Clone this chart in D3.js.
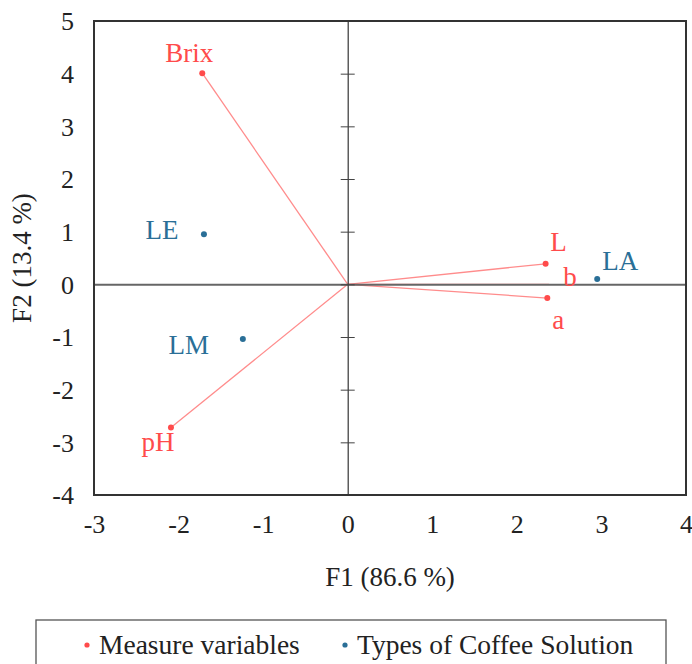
<!DOCTYPE html>
<html><head><meta charset="utf-8">
<script src="https://cdn.jsdelivr.net/npm/d3@7"></script>
<style>body{margin:0;background:#fff}svg{display:block}svg text{font-family:"Liberation Serif","Times New Roman",serif !important}</style>
</head><body>
<script>
// Measure variables (loadings, scaled)
const varNames = ["Brix", "pH", "L", "a", "b"];
const varF1 = [-1.72, -2.09, 2.34, 2.36, 2.38];
const varF2 = [4.01, -2.72, 0.39, -0.26, 0.0];
// Types of coffee solution (scores)
const obsNames = ["LE", "LM", "LA"];
const obsF1 = [-1.70, -1.24, 2.95];
const obsF2 = [0.95, -1.04, 0.10];
const xTicks = [-3, -2, -1, 0, 1, 2, 3, 4];
const yTicks = [-4, -3, -2, -1, 0, 1, 2, 3, 4, 5];
const legendLabels = ["Measure variables", "Types of Coffee Solution"];

const W = 692, H = 664;
const red = "#ff4b4b", redLine = "#ff8c8c", blue = "#2a6f97";
const svg = d3.select("body").append("svg").attr("width", W).attr("height", H)
  .attr("font-family", "Liberation Serif");
const x = d3.scaleLinear().domain([-3, 4]).range([94, 686]);
const y = d3.scaleLinear().domain([-4, 5]).range([495, 21]);
const fmt = d => String(d);

// vectors
const vars = varNames.map((n, i) => ({n, x: varF1[i], y: varF2[i]}));
const obs = obsNames.map((n, i) => ({n, x: obsF1[i], y: obsF2[i]}));
svg.append("g").selectAll("line").data(vars).join("line")
  .attr("x1", x(0)).attr("y1", y(0)).attr("x2", d => x(d.x)).attr("y2", d => y(d.y))
  .attr("stroke", redLine).attr("stroke-width", 1.3);
svg.append("g").selectAll("circle").data(vars.filter(d => d.n !== "b")).join("circle")
  .attr("cx", d => x(d.x)).attr("cy", d => y(d.y)).attr("r", 3).attr("fill", red);

// zero axes
const gx = svg.append("g").attr("transform", `translate(0,${y(0)})`)
  .call(d3.axisBottom(x).tickValues([]).tickSize(0).tickSizeOuter(0));
gx.select(".domain").attr("stroke", "#666").attr("stroke-width", 2);
const gy = svg.append("g").attr("transform", `translate(${x(0)},0)`)
  .call(d3.axisLeft(y).tickValues(yTicks).tickSize(7).tickSizeOuter(0).tickFormat(""));
gy.select(".domain").attr("stroke", "#444").attr("stroke-width", 1.3);
gy.selectAll(".tick line").attr("stroke", "#444").attr("x2", 7).attr("x1", -7);

// frame
svg.append("rect").attr("x", 94).attr("y", 21).attr("width", 592).attr("height", 474)
  .attr("fill", "none").attr("stroke", "#333").attr("stroke-width", 2);

// observation points
svg.append("g").selectAll("circle").data(obs).join("circle")
  .attr("cx", d => x(d.x)).attr("cy", d => y(d.y)).attr("r", 3).attr("fill", blue);

// tick labels
const yl = svg.append("g").call(d3.axisLeft(y).tickValues(yTicks).tickSize(0).tickPadding(0).tickFormat(fmt))
  .attr("transform", "translate(74,0)").attr("font-family", "Liberation Serif");
yl.select(".domain").remove();
yl.selectAll("text").attr("font-size", 26).attr("fill", "#222").attr("dy", "0.34em");
const xl = svg.append("g").call(d3.axisBottom(x).tickValues(xTicks).tickSize(0).tickPadding(0).tickFormat(fmt))
  .attr("transform", "translate(0,515)").attr("font-family", "Liberation Serif");
xl.select(".domain").remove();
xl.selectAll("text").attr("font-size", 26).attr("fill", "#222");

// axis titles
svg.append("text").attr("x", 390).attr("y", 586).attr("text-anchor", "middle")
  .attr("font-size", 27).attr("fill", "#222").text("F1 (86.6 %)");
svg.append("text").attr("transform", "translate(31,258) rotate(-90)").attr("text-anchor", "middle")
  .attr("font-size", 27).attr("fill", "#222").text("F2 (13.4 %)");

// point labels
const varOff = {Brix: [-13, -11], pH: [-13, 23], L: [13, -13], a: [11, 31], b: [21, 2]};
svg.append("g").selectAll("text").data(vars).join("text")
  .attr("x", d => x(d.x) + varOff[d.n][0]).attr("y", d => y(d.y) + varOff[d.n][1])
  .attr("text-anchor", "middle").attr("font-size", 27).attr("fill", red).text(d => d.n);
const obsOff = {LE: [-42, 5], LM: [-54, 15], LA: [23, -9]};
svg.append("g").selectAll("text").data(obs).join("text")
  .attr("x", d => x(d.x) + obsOff[d.n][0]).attr("y", d => y(d.y) + obsOff[d.n][1])
  .attr("text-anchor", "middle").attr("font-size", 27).attr("fill", blue).text(d => d.n);

// legend
svg.append("rect").attr("x", 36).attr("y", 620).attr("width", 630).attr("height", 60)
  .attr("fill", "#fff").attr("stroke", "#555").attr("stroke-width", 1.3);
const lg = [{c: red, t: legendLabels[0], x: 87}, {c: blue, t: legendLabels[1], x: 345}];
lg.forEach(d => {
  svg.append("circle").attr("cx", d.x).attr("cy", 645).attr("r", 2.6).attr("fill", d.c);
  svg.append("text").attr("x", d.x + 12).attr("y", 654).attr("font-size", 27.5).attr("fill", "#222").text(d.t);
});
</script>
</body></html>
